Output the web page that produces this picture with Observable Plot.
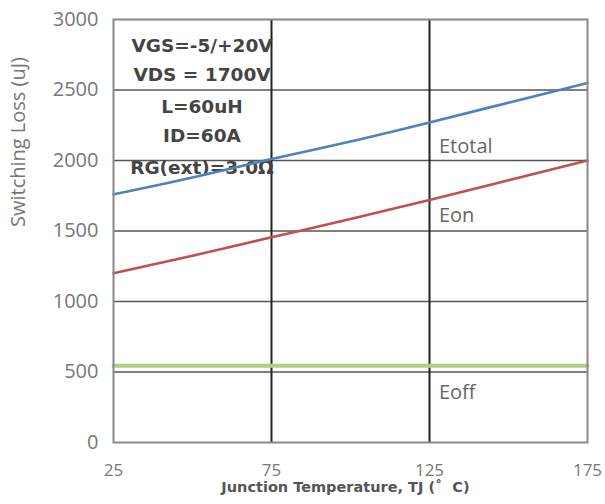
<!DOCTYPE html>
<html>
<head>
<meta charset="utf-8">
<script src="https://cdn.jsdelivr.net/npm/d3@7"></script>
<script src="https://cdn.jsdelivr.net/npm/@observablehq/plot@0.6"></script>
<style>
  html, body { margin: 0; padding: 0; background: #fff; }
  #chart { width: 605px; height: 504px; }
</style>
</head>
<body>
<div id="chart"></div>
<script>
// Data
const temps = [25, 50, 75, 100, 125, 150, 175];
const etotal = [1760, 1880, 2010, 2135, 2270, 2410, 2550];
const eon = [1200, 1325, 1455, 1585, 1720, 1860, 2000];
const eoff = [545, 545, 545, 545, 545, 545, 545];
const xTicks = [25, 75, 125, 175];
const yTicks = [0, 500, 1000, 1500, 2000, 2500, 3000];
const hGrid = [500, 1000, 1500, 2000, 2500];
const vGrid = [75, 125];

// annotation texts (condition box) and series labels
const condText = ["VGS=-5/+20V", "VDS = 1700V", "L=60uH", "ID=60A", "RG(ext)=3.0\u03A9"];
const condY = [2815, 2609, 2381, 2175, 1948];
const seriesLabels = ["Etotal", "Eon", "Eoff"];
const seriesLabelX = [128, 128, 128];
const seriesLabelY = [2097, 1612, 355];

const toRows = (vals) => temps.map((t, i) => ({x: t, y: vals[i]}));
const conds = condText.map((t, i) => ({t, x: 53, y: condY[i]}));
const slabels = seriesLabels.map((t, i) => ({t, x: seriesLabelX[i], y: seriesLabelY[i]}));

const chart = Plot.plot({
  width: 605,
  height: 504,
  marginLeft: 113,
  marginRight: 18,
  marginTop: 19,
  marginBottom: 62,
  x: {domain: [25, 175]},
  y: {domain: [0, 3000]},
  style: {background: "#fff"},
  marks: [
    Plot.ruleY(hGrid, {stroke: "#555", strokeWidth: 1.6}),
    Plot.ruleX(vGrid, {stroke: "#222", strokeWidth: 2}),
    Plot.text(conds, {x: "x", y: "y", text: "t", fontSize: 18.5, fontWeight: "bold", fill: "#444", fontFamily: "DejaVu Sans", textAnchor: "middle"}),
    Plot.line(toRows(eoff), {x: "x", y: "y", stroke: "#b0cf84", strokeWidth: 4}),
    Plot.line(toRows(eon), {x: "x", y: "y", stroke: "#c0504d", strokeWidth: 2.6, curve: "natural"}),
    Plot.line(toRows(etotal), {x: "x", y: "y", stroke: "#4f81bd", strokeWidth: 2.6, curve: "natural"}),
    Plot.text(slabels, {x: "x", y: "y", text: "t", fontSize: 20, fill: "#666", fontFamily: "Open Sans", textAnchor: "start"}),
    Plot.frame({stroke: "#888", strokeWidth: 2}),
    Plot.axisY({ticks: yTicks, tickSize: 0, tickPadding: 15, tickFormat: d => String(d), fontSize: 20, fill: "#777", fontFamily: "Open Sans", label: null}),
    Plot.axisX({ticks: xTicks, tickSize: 0, tickPadding: 21, tickFormat: d => String(d), fontSize: 17, fill: "#777", fontFamily: "Open Sans", label: null}),
    Plot.text(["Switching Loss (uJ)"], {frameAnchor: "left", dx: -95, dy: -4, rotate: -90, fontSize: 20, fill: "#777", fontFamily: "Open Sans"}),
    Plot.text(["Junction Temperature, TJ (\u02DA  C)"], {frameAnchor: "bottom", dy: 49, fontSize: 14.5, fontWeight: "bold", fill: "#555", fontFamily: "DejaVu Sans", dx: -5})
  ]
});
document.getElementById("chart").appendChild(chart);
</script>
</body>
</html>
